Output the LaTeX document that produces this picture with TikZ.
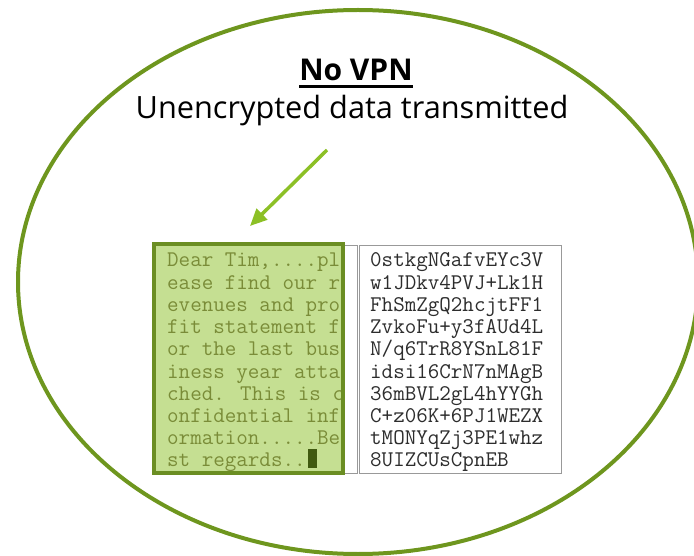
\documentclass[tikz,border=0pt]{standalone}
\usepackage{fontspec}
\setmainfont{Open Sans}
\usetikzlibrary{arrows.meta}
\definecolor{ringgreen}{RGB}{110,150,30}
\definecolor{arrowgreen}{RGB}{140,192,38}
\definecolor{boxfill}{RGB}{197,223,146}
\definecolor{boxedge}{RGB}{107,142,35}
\definecolor{plaintext}{RGB}{122,140,56}
\definecolor{cursorgreen}{RGB}{64,90,16}
\definecolor{ciphertext}{RGB}{45,45,45}
\tikzset{
  ring/.style={draw=ringgreen, line width=4pt},
  headline/.style={font=\bfseries\fontsize{30}{36}\selectfont, anchor=base, inner sep=0pt},
  subline/.style={font=\fontsize{30.7}{36}\selectfont, anchor=base, inner sep=0pt},
  monoline/.style={font=\ttfamily\fontsize{22.4}{22}\selectfont, anchor=base west, inner sep=0pt},
  plainline/.style={monoline, text=plaintext},
  cipherline/.style={monoline, text=ciphertext},
  panel/.style={draw=gray!80, line width=1pt, fill=white},
  pointer/.style={draw=arrowgreen, line width=3.5pt, -{Triangle[length=17pt,width=15pt]}}
}
\begin{document}
\begin{tikzpicture}[x=1pt,y=-1pt]
\useasboundingbox (0,0) rectangle (694,556);

% outer ring
\draw[ring] (358,282) ellipse [x radius=340, y radius=272];

% heading
\node[headline] (title) at (356,81) {No VPN};
\draw[line width=3pt] ([yshift=-6pt]title.base west) -- ([yshift=-6pt]title.base east);
\node[subline] (sub) at (352,119) {Unencrypted data transmitted};

% pointer
\coordinate (ptail) at (327,150);
\coordinate (phead) at (250,226);
\draw[pointer] (ptail) -- (phead);

% two text panels
\draw[panel] (155,246) rectangle (357,473);
\draw[panel] (359,246) rectangle (561,473);

% plain text panel, highlighted
\fill[boxfill] (154,244) rectangle (343,473);
\begin{scope}
  \clip (156,246) rectangle (341,471);
  \node[plainline] (p0) at (167,267.0) {Dear Tim,....pl};
  \node[plainline] (p1) at (167,289.2) {ease find our r};
  \node[plainline] (p2) at (167,311.4) {evenues and pro};
  \node[plainline] (p3) at (167,333.6) {fit statement f};
  \node[plainline] (p4) at (167,355.8) {or the last bus};
  \node[plainline] (p5) at (167,378.0) {iness year atta};
  \node[plainline] (p6) at (167,400.2) {ched. This is c};
  \node[plainline] (p7) at (167,422.4) {onfidential inf};
  \node[plainline] (p8) at (167,444.6) {ormation.....Be};
  \node[plainline] (p9) at (167,466.8) {st regards..};
\end{scope}
\fill[cursorgreen] (308,449) rectangle (317,468);
\draw[boxedge, line width=4pt] (154,244) rectangle (343,473);

% cipher text panel
\node[cipherline] (c0) at (370,267.0) {0stkgNGafvEYc3V};
\node[cipherline] (c1) at (370,289.2) {w1JDkv4PVJ+Lk1H};
\node[cipherline] (c2) at (370,311.4) {FhSmZgQ2hcjtFF1};
\node[cipherline] (c3) at (370,333.6) {ZvkoFu+y3fAUd4L};
\node[cipherline] (c4) at (370,355.8) {N/q6TrR8YSnL81F};
\node[cipherline] (c5) at (370,378.0) {idsi16CrN7nMAgB};
\node[cipherline] (c6) at (370,400.2) {36mBVL2gL4hYYGh};
\node[cipherline] (c7) at (370,422.4) {C+z06K+6PJ1WEZX};
\node[cipherline] (c8) at (370,444.6) {tMONYqZj3PE1whz};
\node[cipherline] (c9) at (370,466.8) {8UIZCUsCpnEB};

\end{tikzpicture}
\end{document}
